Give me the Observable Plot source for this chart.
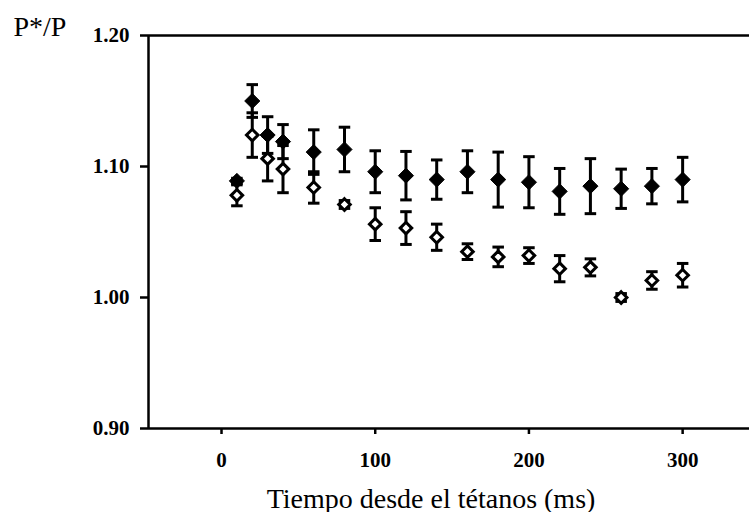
<!DOCTYPE html>
<html>
<head>
<meta charset="utf-8">
<script src="https://cdn.jsdelivr.net/npm/d3@7"></script>
<script src="https://cdn.jsdelivr.net/npm/@observablehq/plot@0.6"></script>
<style>
  html, body { margin: 0; padding: 0; background: #fff; }
  svg { display: block; }
</style>
</head>
<body>
<div id="chart"></div>
<script>
// Data
const times = [10, 20, 30, 40, 60, 80, 100, 120, 140, 160, 180, 200, 220, 240, 260, 280, 300];
const filledMean = [1.089, 1.150, 1.124, 1.119, 1.111, 1.113, 1.096, 1.093, 1.090, 1.096, 1.090, 1.088, 1.081, 1.085, 1.083, 1.085, 1.090];
const filledErr  = [0.002, 0.0125, 0.014, 0.013, 0.017, 0.017, 0.016, 0.0185, 0.015, 0.016, 0.021, 0.0195, 0.0175, 0.021, 0.015, 0.0135, 0.017];
const openMean   = [1.078, 1.124, 1.106, 1.098, 1.084, 1.071, 1.056, 1.053, 1.046, 1.035, 1.031, 1.032, 1.022, 1.023, 1.000, 1.013, 1.017];
const openErr    = [0.008, 0.017, 0.017, 0.018, 0.012, 0.003, 0.0125, 0.0125, 0.010, 0.006, 0.0075, 0.006, 0.010, 0.0065, 0.003, 0.0067, 0.009];
const xTicks = [0, 100, 200, 300];
const yTicks = [0.90, 1.00, 1.10, 1.20];
const xDomain = [-47.5, 343.5];
const yDomain = [0.90, 1.20];
const yLabel = "P*/P";
const xLabel = "Tiempo desde el tétanos (ms)";

const filled = times.map((t, i) => ({t, m: filledMean[i], e: filledErr[i]}));
const open = times.map((t, i) => ({t, m: openMean[i], e: openErr[i]}));

const cap = {
  draw(context, size) {
    const w = Math.sqrt(size) / 2;
    context.moveTo(-w, 0);
    context.lineTo(w, 0);
  }
};

const serif = "'Liberation Serif', 'Times New Roman', serif";

function errMarks(data) {
  return [
    Plot.ruleX(data, {x: "t", y1: d => d.m - d.e, y2: d => d.m + d.e, stroke: "black", strokeWidth: 3}),
    Plot.dot(data, {x: "t", y: d => d.m + d.e, symbol: cap, r: 6.5, stroke: "black", strokeWidth: 3, fill: "none"}),
    Plot.dot(data, {x: "t", y: d => d.m - d.e, symbol: cap, r: 6.5, stroke: "black", strokeWidth: 3, fill: "none"})
  ];
}

const chart = Plot.plot({
  width: 749,
  height: 512,
  marginLeft: 148,
  marginRight: 0,
  marginTop: 35,
  marginBottom: 84,
  style: {background: "#fff", fontFamily: serif},
  x: {domain: xDomain},
  y: {domain: yDomain},
  marks: [
    Plot.ruleY([yDomain[0], yDomain[1]], {stroke: "black", strokeWidth: 2.5}),
    Plot.ruleX([xDomain[0]], {stroke: "black", strokeWidth: 2.5}),
    Plot.axisY(yTicks, {tickSize: 8, tickPadding: 11, strokeWidth: 2.5, tickFormat: d3.format(".2f"), fontSize: 21, fontWeight: "bold", fill: "black", label: null}),
    Plot.axisX(xTicks, {tickSize: 6, tickPadding: 18, strokeWidth: 2.5, tickFormat: d3.format("d"), fontSize: 21, fontWeight: "bold", fill: "black", label: null}),
    ...errMarks(filled),
    ...errMarks(open),
    Plot.dot(filled, {x: "t", y: "m", symbol: "diamond2", r: 6.8, fill: "black", stroke: "black", strokeWidth: 1}),
    Plot.dot(open, {x: "t", y: "m", symbol: "diamond2", r: 5.2, fill: "white", stroke: "black", strokeWidth: 3}),
    Plot.text([yLabel], {frameAnchor: "top-left", dx: -135, dy: 0, lineAnchor: "bottom", textAnchor: "start", fontSize: 28, fill: "black"}),
    Plot.text([xLabel], {frameAnchor: "bottom", dx: -18, dy: 79, lineAnchor: "bottom", textAnchor: "middle", fontSize: 28, fill: "black"})
  ]
});
document.getElementById("chart").appendChild(chart);
</script>
</body>
</html>
